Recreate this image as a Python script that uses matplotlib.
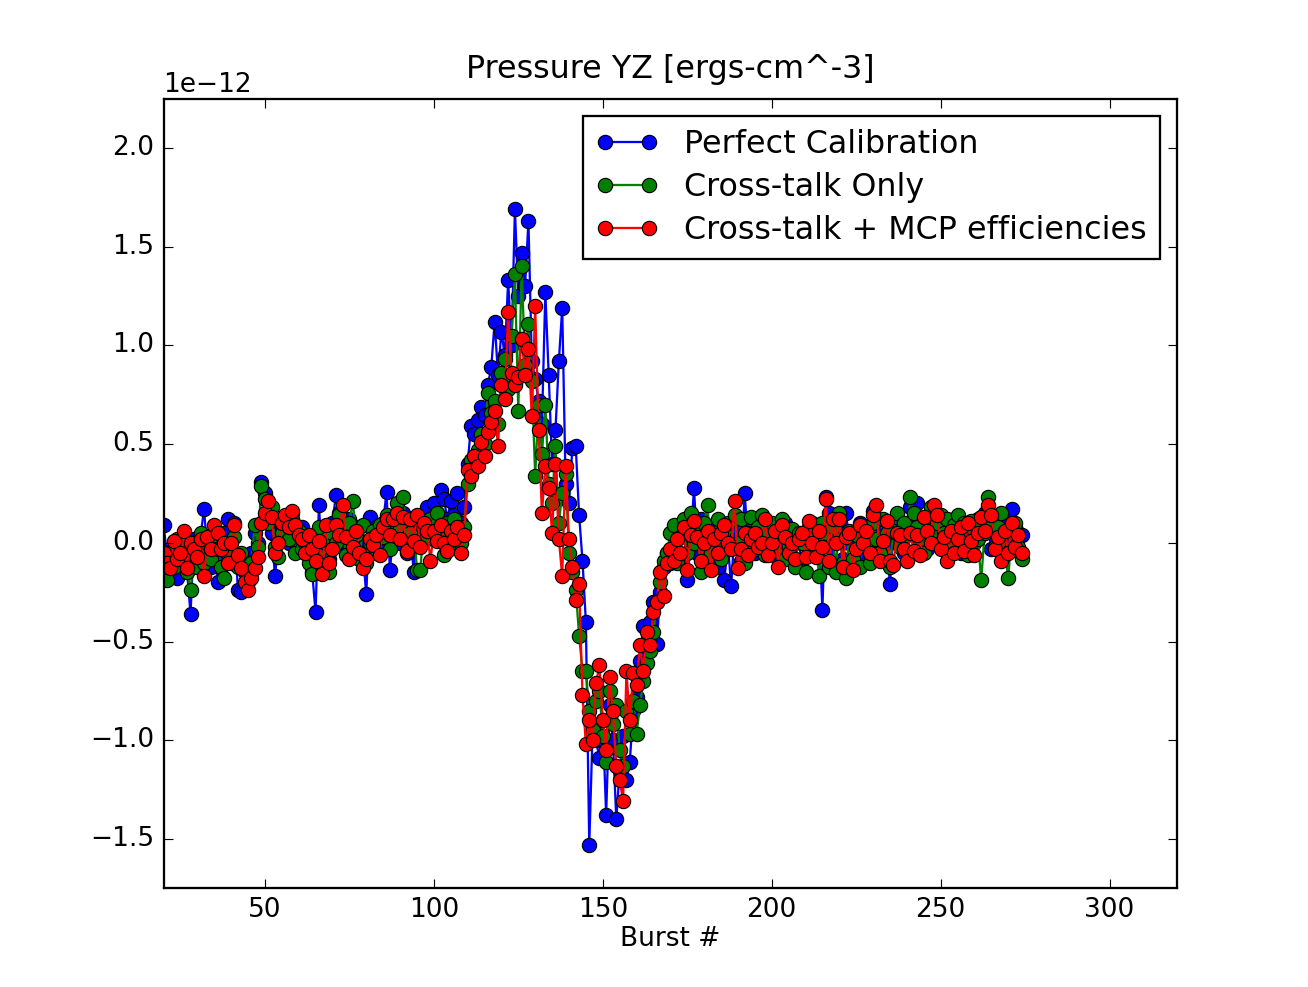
import numpy as np
from matplotlib import pyplot as plt

# burst numbers 20..274, one sample per burst
burst = np.arange(20, 275)

# pressure YZ, in units of 1e-12 ergs/cm^3
perfect = [
    0.09, -0.05, -0.12, -0.02, -0.18, 0.00, -0.10, -0.15, -0.36, 0.02,
    -0.08, 0.04, 0.17, -0.05, -0.12, 0.02, -0.20, -0.10, 0.05, 0.12,
    -0.05, 0.10, -0.24, -0.25, -0.10, -0.18, -0.05, 0.05, 0.00, 0.31,
    0.25, 0.12, 0.05, -0.17, 0.02, 0.08, 0.12, 0.00, 0.15, 0.05,
    0.00, 0.08, -0.05, 0.02, -0.15, -0.35, 0.19, -0.10, 0.05, -0.08,
    0.10, 0.24, 0.15, 0.05, -0.02, 0.12, 0.02, 0.08, 0.00, -0.05,
    -0.26, 0.13, 0.02, 0.08, -0.02, 0.10, 0.26, -0.14, 0.05, 0.12,
    0.00, 0.15, -0.05, 0.10, -0.15, 0.08, 0.12, 0.05, 0.18, 0.10,
    0.20, 0.15, 0.27, 0.22, 0.12, 0.21, 0.14, 0.25, 0.10, 0.18,
    0.40, 0.59, 0.55, 0.62, 0.69, 0.65, 0.80, 0.89, 1.12, 0.85,
    1.07, 0.95, 1.33, 1.00, 1.69, 1.25, 1.47, 1.30, 1.63, 0.92,
    0.83, 0.72, 0.60, 1.27, 0.85, 0.40, 0.57, 0.92, 1.19, 0.30,
    0.20, 0.48, 0.49, 0.14, -0.09, -0.40, -1.53, -0.95, -1.00, -1.09,
    -0.90, -1.38, -0.82, -1.00, -1.40, -1.15, -0.98, -1.20, -1.11, -0.85,
    -0.78, -0.60, -0.42, -0.55, -0.40, -0.30, -0.51, -0.25, -0.12, -0.05,
    -0.10, 0.05, -0.08, 0.04, 0.10, -0.19, 0.00, 0.28, -0.05, 0.12,
    -0.02, 0.08, -0.10, 0.05, -0.12, 0.10, -0.19, 0.00, -0.22, 0.06,
    0.02, -0.09, 0.25, 0.00, 0.08, -0.05, 0.03, 0.10, -0.02, 0.05,
    0.00, 0.05, -0.08, 0.02, 0.10, -0.03, 0.06, 0.00, -0.10, 0.04,
    0.02, -0.05, 0.10, -0.03, 0.08, -0.34, 0.23, 0.15, -0.12, 0.08,
    0.05, -0.08, 0.15, 0.00, -0.10, 0.06, 0.10, -0.05, 0.08, 0.00,
    0.16, 0.05, -0.08, 0.10, 0.00, -0.21, 0.08, 0.12, 0.02, -0.05,
    0.10, 0.18, 0.05, 0.20, 0.00, 0.12, -0.03, 0.08, 0.15, 0.05,
    0.10, -0.02, 0.08, 0.00, 0.12, 0.05, -0.05, 0.10, 0.02, 0.08,
    0.00, 0.12, 0.05, 0.15, 0.08, -0.03, 0.10, 0.00, 0.06, 0.12,
    0.02, 0.17, 0.08, 0.05, 0.04,
]

crosstalk = [
    -0.10, -0.19, -0.05, -0.12, 0.02, -0.08, 0.00, -0.15, -0.24, -0.06,
    -0.12, 0.05, -0.10, 0.00, -0.08, 0.04, -0.03, -0.12, -0.18, -0.05,
    -0.10, 0.03, -0.12, -0.05, -0.15, -0.20, -0.10, 0.09, -0.02, 0.29,
    0.22, 0.10, 0.18, -0.02, -0.07, 0.05, 0.10, 0.02, 0.12, -0.05,
    0.06, -0.03, 0.00, -0.10, -0.16, -0.05, 0.08, -0.12, 0.02, -0.15,
    0.05, 0.00, 0.14, 0.08, -0.06, 0.10, 0.21, 0.04, -0.08, 0.09,
    -0.10, 0.00, 0.06, -0.05, 0.09, 0.03, 0.14, -0.03, 0.10, 0.20,
    0.08, 0.23, 0.00, 0.05, 0.12, -0.14, -0.14, 0.08, 0.02, 0.12,
    0.02, 0.15, 0.04, -0.06, 0.10, 0.00, 0.12, 0.05, 0.00, 0.08,
    0.30, 0.42, 0.38, 0.47, 0.55, 0.50, 0.76, 0.66, 0.72, 0.60,
    0.86, 0.93, 0.78, 1.05, 1.36, 0.67, 1.40, 0.90, 1.11, 0.82,
    0.34, 0.70, 0.45, 0.70, 0.30, 0.20, 0.49, 0.10, 0.25, 0.35,
    -0.05, -0.15, -0.24, -0.47, -0.65, -0.65, -0.85, -0.95, -0.80, -0.75,
    -0.98, -1.11, -0.75, -0.92, -0.82, -1.05, -1.13, -0.85, -0.97, -0.80,
    -0.97, -0.82, -0.70, -0.61, -0.55, -0.45, -0.30, -0.20, -0.09, -0.05,
    0.05, 0.09, -0.10, 0.03, 0.12, -0.05, 0.15, 0.00, 0.08, -0.15,
    0.10, 0.19, -0.05, 0.04, 0.12, -0.08, 0.06, 0.10, -0.02, 0.14,
    0.00, 0.12, -0.10, 0.05, 0.13, -0.03, 0.08, 0.14, -0.06, 0.04,
    0.10, -0.04, 0.05, 0.12, -0.08, 0.02, 0.07, -0.12, 0.05, 0.00,
    -0.15, 0.08, -0.05, 0.03, -0.17, 0.10, 0.05, -0.12, 0.08, -0.15,
    0.15, -0.10, -0.18, 0.06, -0.08, 0.04, -0.12, 0.08, 0.00, -0.10,
    0.10, 0.02, -0.05, 0.12, 0.05, -0.12, 0.06, 0.15, -0.02, 0.10,
    0.04, 0.23, 0.15, 0.08, 0.02, -0.05, 0.12, 0.18, 0.06, 0.10,
    0.14, 0.05, 0.12, -0.03, 0.09, 0.14, 0.00, 0.10, -0.06, 0.11,
    0.08, 0.02, -0.19, 0.05, 0.23, 0.12, -0.02, 0.08, 0.15, -0.05,
    -0.18, 0.05, 0.10, -0.02, -0.08,
]

crosstalk_mcp = [
    -0.05, -0.10, -0.13, 0.01, -0.08, -0.05, 0.06, -0.13, 0.00, -0.03,
    -0.07, 0.02, -0.17, 0.03, -0.03, 0.09, 0.05, -0.03, 0.00, -0.10,
    0.00, 0.09, -0.06, -0.13, -0.20, -0.24, -0.18, -0.13, -0.07, 0.10,
    0.15, 0.21, 0.13, -0.05, 0.00, 0.10, 0.14, 0.08, 0.16, 0.09,
    0.04, 0.02, -0.05, 0.04, -0.03, -0.09, 0.01, -0.16, 0.09, -0.10,
    -0.03, 0.09, 0.04, 0.19, 0.03, -0.08, -0.02, 0.06, -0.05, -0.13,
    -0.08, 0.02, -0.01, 0.04, -0.06, 0.08, 0.12, 0.04, 0.12, 0.15,
    0.02, 0.13, -0.04, 0.12, 0.01, 0.14, -0.02, 0.10, 0.06, -0.09,
    0.06, 0.01, 0.09, 0.00, -0.04, 0.06, 0.02, 0.08, -0.05, 0.04,
    0.37, 0.34, 0.44, 0.39, 0.51, 0.44, 0.56, 0.61, 0.67, 0.49,
    0.80, 0.73, 1.17, 0.86, 0.80, 0.84, 1.03, 0.85, 0.98, 0.64,
    1.20, 0.57, 0.15, 0.39, 0.28, 0.05, 0.40, 0.02, -0.17, 0.39,
    0.02, -0.12, -0.29, -0.21, -0.77, -1.02, -0.90, -1.00, -0.71, -0.62,
    -0.90, -1.05, -0.68, -0.85, -1.13, -1.20, -1.31, -0.65, -0.90, -0.66,
    -0.72, -0.52, -0.65, -0.45, -0.52, -0.35, -0.30, -0.15, -0.27, -0.10,
    -0.03, -0.09, 0.02, -0.05, 0.08, -0.14, 0.04, 0.11, 0.03, -0.09,
    0.00, 0.06, -0.14, 0.02, -0.05, 0.05, 0.09, 0.00, -0.03, 0.21,
    -0.13, -0.03, 0.05, -0.06, 0.02, 0.05, -0.02, 0.00, 0.12, -0.06,
    0.00, 0.06, -0.12, 0.09, 0.03, -0.05, 0.00, -0.08, 0.02, 0.05,
    -0.07, 0.11, 0.00, -0.07, 0.06, -0.02, 0.22, -0.09, 0.12, 0.00,
    0.12, -0.12, 0.03, 0.05, -0.14, -0.03, 0.09, 0.00, 0.06, -0.05,
    0.14, 0.19, -0.09, 0.01, 0.11, -0.09, -0.11, 0.05, 0.04, -0.03,
    -0.09, 0.05, -0.04, 0.04, -0.06, 0.13, 0.06, 0.00, 0.19, 0.14,
    -0.03, 0.03, -0.09, 0.06, -0.05, 0.02, 0.08, -0.04, 0.10, 0.01,
    -0.06, 0.05, 0.13, 0.06, 0.19, 0.14, -0.03, 0.03, -0.09, 0.06,
    -0.05, 0.10, -0.02, 0.04, -0.05,
]

labels = ['Perfect Calibration', 'Cross-talk Only', 'Cross-talk + MCP efficiencies']
colors = ['b', 'g', 'r']

plt.style.use('classic')
plt.rcParams['font.size'] = 11.6
plt.figure(figsize=(8, 6.037), dpi=163.5)
plt.gcf().patch.set_facecolor('white')
for vals, lab, c in zip([perfect, crosstalk, crosstalk_mcp], labels, colors):
    plt.plot(burst, np.array(vals) * 1e-12, '-o', color=c, label=lab,
             markersize=6.3, markeredgecolor='k', markeredgewidth=0.5)
plt.xlim(20, 320)
plt.ylim(-1.75e-12, 2.25e-12)
plt.xlabel('Burst #', labelpad=1)
plt.title('Pressure YZ [ergs-cm^-3]', fontsize=14, pad=9)
plt.legend(loc='upper right', numpoints=2, fontsize=14, labelspacing=0.38,
           borderpad=0.4, borderaxespad=0.55)
plt.savefig('out.png', dpi=163.5, facecolor='white')
